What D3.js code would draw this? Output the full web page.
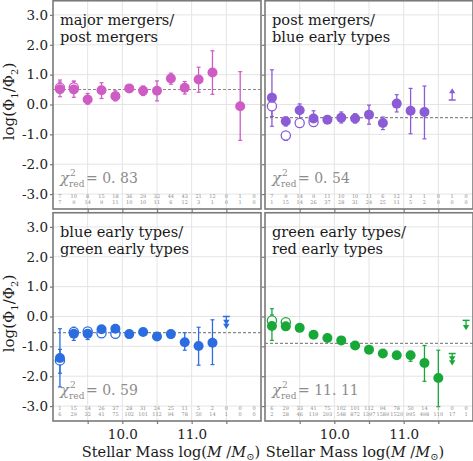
<!DOCTYPE html>
<html>
<head>
<meta charset="utf-8">
<script src="https://cdn.jsdelivr.net/npm/d3@7"></script>
<style>
body { margin: 0; background: #fff; }
svg text { font-family: "DejaVu Serif", serif; }
</style>
</head>
<body>
<svg id="chart" width="473" height="461"></svg>
<script>
const massBins = [9.1, 9.3, 9.5, 9.7, 9.9, 10.1, 10.3, 10.5, 10.7, 10.9, 11.1, 11.3, 11.5, 11.7, 11.9];
const yTicks = [-3, -2, -1, 0, 1, 2, 3];
const xTicks = [9.5, 10.0, 10.5, 11.0, 11.5];
const xTickLabels = [10.0, 11.0];

// major mergers / post mergers
const mmTitle = ["major mergers/", "post mergers"];
const mmChi = "0. 83";
const mmFit = 0.5;
const mmRatio = [0.51, 0.50, 0.17, 0.48, 0.28, 0.54, 0.46, 0.46, 0.87, 0.56, 0.84, 1.07, null, -0.06, null];
const mmErrLo = [0.26, 0.24, 0.01, 0.20, 0.12, 0.43, 0.30, 0.12, 0.68, 0.35, 0.41, 0.34, null, -1.20, null];
const mmErrHi = [0.82, 0.79, 0.37, 0.73, 0.46, 0.65, 0.62, 0.79, 1.05, 0.77, 1.25, 1.80, null, 1.10, null];
const mmOpen = [0.56, 0.57, null, null, null, null, null, null, null, null, null, null, null, null, null];
const mmOpenLo = [0.40, 0.42, null, null, null, null, null, null, null, null, null, null, null, null, null];
const mmOpenHi = [0.75, 0.76, null, null, null, null, null, null, null, null, null, null, null, null, null];
const mmN1 = [7, 10, 8, 15, 18, 36, 29, 32, 44, 43, 21, 12, 0, 1, 0];
const mmN2 = [7, 9, 14, 9, 11, 10, 10, 11, 6, 12, 3, 1, 0, 1, 0];

// post mergers / blue early types
const pbTitle = ["post mergers/", "blue early types"];
const pbChi = "0. 54";
const pbFit = -0.44;
const pbRatio = [0.23, -0.56, -0.19, -0.47, -0.51, -0.44, -0.47, -0.34, -0.62, 0.03, -0.21, -0.25, null, null, null];
const pbErrLo = [-0.73, -0.72, -0.75, -0.73, -0.62, -0.62, -0.62, -0.66, -0.84, -0.25, -0.98, -1.15, null, null, null];
const pbErrHi = [1.16, -0.42, 0.02, -0.21, -0.42, -0.25, -0.31, -0.02, -0.42, 0.33, 0.54, 0.62, null, null, null];
const pbOpen = [-0.06, -1.04, -0.62, -0.59, null, null, null, null, null, null, null, null, null, null, null];
const pbOpenLo = [-0.40, -1.20, -0.75, -0.70, null, null, null, null, null, null, null, null, null, null, null];
const pbOpenHi = [0.30, -0.92, -0.50, -0.50, null, null, null, null, null, null, null, null, null, null, null];
const pbN1 = [7, 9, 14, 9, 11, 10, 10, 11, 6, 12, 3, 1, 0, 1, 0];
const pbN2 = [1, 15, 14, 26, 37, 28, 31, 24, 25, 11, 5, 2, 0, 0, 0];
const pbLimBin = [11.7];
const pbLimBase = [0.15];
const pbLimHeads = [[0.46]];

// blue early types / green early types
const bgTitle = ["blue early types/", "green early types"];
const bgChi = "0. 59";
const bgFit = -0.54;
const bgRatio = [-1.39, -0.58, -0.58, -0.43, -0.41, -0.59, -0.52, -0.67, -0.59, -0.86, -0.99, -0.88, null, null, null];
const bgErrLo = [-2.36, -0.80, -0.77, -0.58, -0.55, -0.72, -0.63, -0.80, -0.72, -1.13, -1.63, -1.61, null, null, null];
const bgErrHi = [-0.41, -0.36, -0.39, -0.32, -0.30, -0.47, -0.42, -0.55, -0.47, -0.54, -0.36, -0.11, null, null, null];
const bgOpen = [-1.47, -0.52, -0.50, -0.56, -0.58, null, null, null, null, null, null, null, null, null, null];
const bgOpenLo = [-1.90, -0.65, -0.62, -0.66, -0.68, null, null, null, null, null, null, null, null, null, null];
const bgOpenHi = [-1.10, -0.40, -0.38, -0.46, -0.48, null, null, null, null, null, null, null, null, null, null];
const bgN1 = [1, 15, 14, 26, 37, 28, 31, 24, 25, 11, 5, 2, 0, 0, 0];
const bgN2 = [6, 29, 32, 41, 75, 102, 101, 112, 94, 78, 50, 14, 1, 0, 0];
const bgLimBin = [11.5];
const bgLimBase = [0.0];
const bgLimHeads = [[-0.20, -0.33]];

// green early types / red early types
const grTitle = ["green early types/", "red early types"];
const grChi = "11. 11";
const grFit = -0.9;
const grRatio = [-0.32, -0.33, -0.38, -0.61, -0.72, -0.80, -0.97, -1.11, -1.24, -1.30, -1.30, -1.56, -2.06, null, null];
const grErrLo = [-0.80, -0.45, -0.48, -0.70, -0.80, -0.88, -1.04, -1.18, -1.31, -1.38, -1.50, -2.17, -3.02, null, null];
const grErrHi = [0.26, -0.22, -0.28, -0.52, -0.64, -0.72, -0.90, -1.04, -1.17, -1.22, -1.17, -0.97, -1.13, null, null];
const grOpen = [-0.13, -0.19, null, null, null, null, null, null, null, null, null, null, null, null, null];
const grOpenLo = [-0.30, -0.30, null, null, null, null, null, null, null, null, null, null, null, null, null];
const grOpenHi = [0.05, -0.08, null, null, null, null, null, null, null, null, null, null, null, null, null];
const grN1 = [6, 29, 33, 41, 75, 102, 101, 112, 94, 78, 50, 14, 1, 0, 0];
const grN2 = [2, 28, 46, 119, 293, 548, 872, 1397, 1589, 1520, 995, 498, 110, 17, 1];
const grLimBin = [11.7, 11.9];
const grLimBase = [-1.24, -0.13];
const grLimHeads = [[-1.42, -1.55], [-0.37]];

const svg = d3.select("#chart");
const PW = 208, PH = 209;

const panels = [
  { title: mmTitle, chi: mmChi, fit: mmFit, val: mmRatio, lo: mmErrLo, hi: mmErrHi, open: mmOpen, oLo: mmOpenLo, oHi: mmOpenHi,
    n1: mmN1, n2: mmN2, lim: null, color: "#cf5cc4", x0: 53, y0: 0, left: true, bottom: false },
  { title: pbTitle, chi: pbChi, fit: pbFit, val: pbRatio, lo: pbErrLo, hi: pbErrHi, open: pbOpen, oLo: pbOpenLo, oHi: pbOpenHi,
    n1: pbN1, n2: pbN2, lim: { bin: pbLimBin, base: pbLimBase, heads: pbLimHeads, up: true }, color: "#8b5cd6", x0: 265, y0: 0, left: false, bottom: false },
  { title: bgTitle, chi: bgChi, fit: bgFit, val: bgRatio, lo: bgErrLo, hi: bgErrHi, open: bgOpen, oLo: bgOpenLo, oHi: bgOpenHi,
    n1: bgN1, n2: bgN2, lim: { bin: bgLimBin, base: bgLimBase, heads: bgLimHeads, up: false }, color: "#2b6de0", x0: 53, y0: 212, left: true, bottom: true },
  { title: grTitle, chi: grChi, fit: grFit, val: grRatio, lo: grErrLo, hi: grErrHi, open: grOpen, oLo: grOpenLo, oHi: grOpenHi,
    n1: grN1, n2: grN2, lim: { bin: grLimBin, base: grLimBase, heads: grLimHeads, up: false }, color: "#17a838", x0: 265, y0: 212, left: false, bottom: true }
];

panels.forEach((p, i) => drawPanel(p, i));

function errorBar(g, x, y, bins, lo, hi, color) {
  bins.forEach((b, k) => {
    if (lo[k] == null || hi[k] == null) return;
    const cx = x(b);
    g.append("line").attr("x1", cx).attr("x2", cx).attr("y1", y(lo[k])).attr("y2", y(hi[k]))
      .attr("stroke", color).attr("stroke-width", 1.3);
    [lo[k], hi[k]].forEach(v => {
      g.append("line").attr("x1", cx - 2).attr("x2", cx + 2).attr("y1", y(v)).attr("y2", y(v))
        .attr("stroke", color).attr("stroke-width", 1.2);
    });
  });
}

function drawPanel(p, i) {
  const x = d3.scaleLinear().domain([9, 12]).range([p.x0, p.x0 + PW]);
  const y = d3.scaleLinear().domain([-3.5, 3.5]).range([p.y0 + PH, p.y0]);
  const g = svg.append("g");

  g.append("clipPath").attr("id", "clip" + i)
    .append("rect").attr("x", p.x0).attr("y", p.y0).attr("width", PW).attr("height", PH);

  // grid
  g.selectAll(".vg").data(xTicks).join("line")
    .attr("x1", d => x(d)).attr("x2", d => x(d)).attr("y1", p.y0).attr("y2", p.y0 + PH)
    .attr("stroke", "#e4e4e4").attr("stroke-width", 1);
  g.selectAll(".hg").data(yTicks).join("line")
    .attr("x1", p.x0).attr("x2", p.x0 + PW).attr("y1", d => y(d)).attr("y2", d => y(d))
    .attr("stroke", "#e4e4e4").attr("stroke-width", 1);

  // axes
  const yAxis = d3.axisLeft(y).tickValues(yTicks).tickSize(3).tickPadding(2)
    .tickFormat(p.left ? d => d.toFixed(1) : "");
  const yg = g.append("g").attr("transform", `translate(${p.x0},0)`).call(yAxis);
  const xAxis = d3.axisBottom(x).tickValues(xTicks).tickSize(3).tickPadding(5)
    .tickFormat(d => (p.bottom && xTickLabels.includes(d)) ? d.toFixed(1) : "");
  const xg = g.append("g").attr("transform", `translate(0,${p.y0 + PH})`).call(xAxis);
  [yg, xg].forEach(a => {
    a.select(".domain").remove();
    a.selectAll(".tick line").attr("stroke", "#777").attr("stroke-width", 1.2);
    a.selectAll(".tick text").attr("fill", "#222").style("font-size", "13.5px").style("font-family", "DejaVu Serif");
  });

  const pg = g.append("g").attr("clip-path", `url(#clip${i})`);

  // fit line
  pg.append("line").attr("x1", p.x0).attr("x2", p.x0 + PW).attr("y1", y(p.fit)).attr("y2", y(p.fit))
    .attr("stroke", "#888").attr("stroke-width", 1.1).attr("stroke-dasharray", "3,2");

  // error bars
  errorBar(pg, x, y, massBins, p.oLo, p.oHi, p.color);
  errorBar(pg, x, y, massBins, p.lo, p.hi, p.color);

  // open points (behind)
  pg.selectAll(".open").data(massBins.map((b, k) => [b, p.open[k]]).filter(d => d[1] != null)).join("circle")
    .attr("cx", d => x(d[0])).attr("cy", d => y(d[1])).attr("r", 4.6)
    .attr("fill", "#fff").attr("stroke", p.color).attr("stroke-width", 1.3);

  // filled points
  pg.selectAll(".fill").data(massBins.map((b, k) => [b, p.val[k]]).filter(d => d[1] != null)).join("circle")
    .attr("cx", d => x(d[0])).attr("cy", d => y(d[1])).attr("r", 5)
    .attr("fill", p.color);

  // limits
  if (p.lim) {
    p.lim.bin.forEach((b, k) => {
      const cx = x(b);
      const heads = p.lim.heads[k];
      const end = heads[heads.length - 1];
      pg.append("line").attr("x1", cx).attr("x2", cx).attr("y1", y(p.lim.base[k])).attr("y2", y(end))
        .attr("stroke", p.color).attr("stroke-width", 1.3);
      pg.append("line").attr("x1", cx - 3.5).attr("x2", cx + 3.5).attr("y1", y(p.lim.base[k])).attr("y2", y(p.lim.base[k]))
        .attr("stroke", p.color).attr("stroke-width", 1.5);
      heads.forEach(h => {
        const hy = y(h);
        const s = p.lim.up ? -1 : 1;
        pg.append("path")
          .attr("d", `M${cx - 3.2},${hy - 2.6 * s}L${cx + 3.2},${hy - 2.6 * s}L${cx},${hy + 2.6 * s}Z`)
          .attr("fill", p.color);
      });
    });
  }

  // counts
  const cg = g.append("g").attr("fill", "#8a8a8a").style("font-size", "5px").attr("text-anchor", "middle");
  massBins.forEach((b, k) => {
    cg.append("text").attr("x", x(b)).attr("y", p.y0 + 197.5).text(p.n1[k]);
    cg.append("text").attr("x", x(b)).attr("y", p.y0 + 203.5).text(p.n2[k]);
  });

  // title
  const tg = g.append("g").attr("fill", "#1a1a1a").style("font-size", "14.6px");
  tg.append("text").attr("x", p.x0 + 7).attr("y", p.y0 + 25).text(p.title[0]);
  tg.append("text").attr("x", p.x0 + 7).attr("y", p.y0 + 42).text(p.title[1]);

  // reduced chi square
  const chg = g.append("g").attr("fill", "#8c8c8c");
  chg.append("text").attr("x", p.x0 + 7).attr("y", p.y0 + 183).style("font-size", "15px")
    .style("font-style", "italic").text("χ");
  chg.append("text").attr("x", p.x0 + 17).attr("y", p.y0 + 176).style("font-size", "9px").text("2");
  chg.append("text").attr("x", p.x0 + 16).attr("y", p.y0 + 187).style("font-size", "9px").text("red");
  chg.append("text").attr("x", p.x0 + 33).attr("y", p.y0 + 183).style("font-size", "14px").text("= " + p.chi);

  // frame
  g.append("rect").attr("x", p.x0).attr("y", p.y0 + 0.75).attr("width", PW).attr("height", PH - 0.75)
    .attr("fill", "none").attr("stroke", "#7a7a7a").attr("stroke-width", 1.6);

  // axis labels
  if (p.left) {
    const yl = g.append("text").attr("transform", `translate(14,${p.y0 + PH / 2 - 3}) rotate(-90)`)
      .attr("text-anchor", "middle").attr("fill", "#1a1a1a").style("font-size", "15px");
    yl.append("tspan").text("log(Φ");
    yl.append("tspan").attr("dy", 4).style("font-size", "10px").text("1");
    yl.append("tspan").attr("dy", -4).text("/Φ");
    yl.append("tspan").attr("dy", 4).style("font-size", "10px").text("2");
    yl.append("tspan").attr("dy", -4).text(")");
  }
  if (p.bottom) {
    const cx = p.left ? 171 : 355;
    const xl = g.append("text").attr("x", cx).attr("y", 457).attr("text-anchor", "middle")
      .attr("fill", "#1a1a1a").style("font-size", "14.5px");
    xl.append("tspan").text("Stellar Mass log(");
    xl.append("tspan").style("font-style", "italic").text("M");
    xl.append("tspan").text(" /");
    xl.append("tspan").style("font-style", "italic").text("M");
    xl.append("tspan").attr("dy", 3).style("font-size", "10px").text("⊙");
    xl.append("tspan").attr("dy", -3).text(")");
  }
}
</script>
</body>
</html>
